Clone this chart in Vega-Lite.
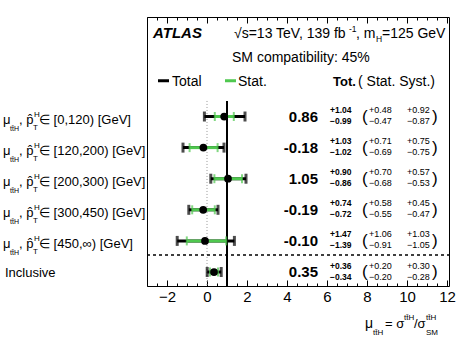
{
  "$schema": "https://vega.github.io/schema/vega-lite/v6.json",
  "width": 302,
  "height": 269,
  "autosize": "none",
  "padding": {"left": 147, "top": 17, "right": 24, "bottom": 55},
  "config": {
    "font": "Liberation Sans",
    "view": {"stroke": "black", "strokeWidth": 1},
    "text": {"font": "Liberation Sans", "color": "black", "baseline": "alphabetic", "align": "left"}
  },
  "data": {"values": [
    {"row": 1, "range": "∈ [0,120) [GeV]", "mu": 0.86, "mu_txt": "0.86", "tot_lo": -0.13, "tot_hi": 1.90, "stat_lo": 0.39, "stat_hi": 1.34, "tot_up": "+1.04", "tot_dn": "−0.99", "stat_up": "+0.48", "stat_dn": "−0.47", "syst_up": "+0.92", "syst_dn": "−0.87"},
    {"row": 2, "range": "∈ [120,200) [GeV]", "mu": -0.18, "mu_txt": "-0.18", "tot_lo": -1.20, "tot_hi": 0.85, "stat_lo": -0.87, "stat_hi": 0.53, "tot_up": "+1.03", "tot_dn": "−1.02", "stat_up": "+0.71", "stat_dn": "−0.69", "syst_up": "+0.75", "syst_dn": "−0.75"},
    {"row": 3, "range": "∈ [200,300) [GeV]", "mu": 1.05, "mu_txt": "1.05", "tot_lo": 0.19, "tot_hi": 1.95, "stat_lo": 0.37, "stat_hi": 1.75, "tot_up": "+0.90", "tot_dn": "−0.86", "stat_up": "+0.70", "stat_dn": "−0.68", "syst_up": "+0.57", "syst_dn": "−0.53"},
    {"row": 4, "range": "∈ [300,450) [GeV]", "mu": -0.19, "mu_txt": "-0.19", "tot_lo": -0.91, "tot_hi": 0.55, "stat_lo": -0.74, "stat_hi": 0.39, "tot_up": "+0.74", "tot_dn": "−0.72", "stat_up": "+0.58", "stat_dn": "−0.55", "syst_up": "+0.45", "syst_dn": "−0.47"},
    {"row": 5, "range": "∈ [450,∞) [GeV]", "mu": -0.10, "mu_txt": "-0.10", "tot_lo": -1.49, "tot_hi": 1.37, "stat_lo": -1.01, "stat_hi": 0.96, "tot_up": "+1.47", "tot_dn": "−1.39", "stat_up": "+1.06", "stat_dn": "−0.91", "syst_up": "+1.03", "syst_dn": "−1.05"},
    {"row": 6, "range": "Inclusive", "mu": 0.35, "mu_txt": "0.35", "tot_lo": 0.01, "tot_hi": 0.71, "stat_lo": 0.15, "stat_hi": 0.55, "tot_up": "+0.36", "tot_dn": "−0.34", "stat_up": "+0.20", "stat_dn": "−0.20", "syst_up": "+0.30", "syst_dn": "−0.28"}
  ]},
  "resolve": {"axis": {"x": "independent", "y": "independent"}},
  "layer": [
    {"mark": {"type": "rule", "color": "#999999", "strokeWidth": 1, "strokeDash": [1, 2]},
     "data": {"values": [{"ref": 0}]},
     "encoding": {"x": {"field": "ref", "type": "quantitative", "axis": null}, "y": {"datum": 0.5, "type": "quantitative", "axis": null}, "y2": {"datum": 6.45}}},
    {"mark": {"type": "rule", "color": "black", "strokeWidth": 2},
     "data": {"values": [{"ref": 1}]},
     "encoding": {"x": {"field": "ref", "type": "quantitative", "axis": null}, "y": {"datum": 0.5, "type": "quantitative", "axis": null}, "y2": {"datum": 6.45}}},
    {"mark": {"type": "rule", "color": "black", "strokeWidth": 1.5, "strokeDash": [3, 3]},
     "data": {"values": [{"sep": 5.45}]},
     "encoding": {"y": {"field": "sep", "type": "quantitative", "axis": null}, "x": {"datum": -3, "type": "quantitative", "axis": null}, "x2": {"datum": 12.1}}},
    {"mark": {"type": "rule", "color": "black", "strokeWidth": 3},
     "encoding": {
       "x": {"field": "tot_lo", "type": "quantitative", "scale": {"domain": [-3, 12.1], "nice": false, "zero": false},
             "axis": {"orient": "bottom", "values": [-2, 0, 2, 4, 6, 8, 10, 12], "format": "d", "tickSize": -6, "tickColor": "black", "tickWidth": 1, "labelFontSize": 15, "labelPadding": 9, "labelColor": "black", "labelFont": "Liberation Sans", "domain": false, "grid": false, "title": null}},
       "x2": {"field": "tot_hi"},
       "y": {"field": "row", "type": "quantitative", "scale": {"domain": [-2.2, 6.45], "reverse": true, "nice": false, "zero": false}, "axis": null}}},
    {"mark": {"type": "tick", "orient": "vertical", "color": "black", "thickness": 3, "size": 10},
     "encoding": {
       "x": {"field": "tot_lo", "type": "quantitative", "axis": {"orient": "bottom", "values": [-3, -2.5, -1.5, -1, -0.5, 0.5, 1, 1.5, 2.5, 3, 3.5, 4.5, 5, 5.5, 6.5, 7, 7.5, 8.5, 9, 9.5, 10.5, 11, 11.5], "tickSize": -3, "tickColor": "black", "labels": false, "domain": false, "grid": false, "title": null}},
       "y": {"field": "row", "type": "quantitative", "axis": null}}},
    {"mark": {"type": "tick", "orient": "vertical", "color": "black", "thickness": 3, "size": 10},
     "encoding": {
       "x": {"field": "tot_hi", "type": "quantitative", "axis": {"orient": "top", "values": [-2, 0, 2, 4, 6, 8, 10, 12], "tickSize": -6, "tickColor": "black", "labels": false, "domain": false, "grid": false, "title": null}},
       "y": {"field": "row", "type": "quantitative", "axis": null}}},
    {"mark": {"type": "rule", "color": "#4fc84f", "strokeWidth": 3},
     "encoding": {
       "x": {"field": "stat_lo", "type": "quantitative", "axis": {"orient": "top", "values": [-3, -2.5, -1.5, -1, -0.5, 0.5, 1, 1.5, 2.5, 3, 3.5, 4.5, 5, 5.5, 6.5, 7, 7.5, 8.5, 9, 9.5, 10.5, 11, 11.5], "tickSize": -3, "tickColor": "black", "labels": false, "domain": false, "grid": false, "title": null}},
       "x2": {"field": "stat_hi"},
       "y": {"field": "row", "type": "quantitative", "axis": null}}},
    {"mark": {"type": "tick", "orient": "vertical", "color": "#4fc84f", "thickness": 2, "size": 9},
     "encoding": {"x": {"field": "stat_lo", "type": "quantitative", "axis": null}, "y": {"field": "row", "type": "quantitative", "axis": null}}},
    {"mark": {"type": "tick", "orient": "vertical", "color": "#4fc84f", "thickness": 2, "size": 9},
     "encoding": {"x": {"field": "stat_hi", "type": "quantitative", "axis": null}, "y": {"field": "row", "type": "quantitative", "axis": null}}},
    {"mark": {"type": "point", "filled": true, "color": "black", "size": 60, "opacity": 1},
     "encoding": {"x": {"field": "mu", "type": "quantitative", "axis": null}, "y": {"field": "row", "type": "quantitative", "axis": null}}},
    {"mark": {"type": "text", "fontSize": 15, "fontWeight": "bold", "align": "right", "dy": 5},
     "encoding": {"text": {"field": "mu_txt"}, "x": {"datum": 5.55, "type": "quantitative", "axis": null}, "y": {"field": "row", "type": "quantitative", "axis": null}}},
    {"mark": {"type": "text", "fontSize": 8.5, "fontWeight": "bold", "dy": -3.5},
     "encoding": {"text": {"field": "tot_up"}, "x": {"datum": 6.15, "type": "quantitative", "axis": null}, "y": {"field": "row", "type": "quantitative", "axis": null}}},
    {"mark": {"type": "text", "fontSize": 8.5, "fontWeight": "bold", "dy": 7.5},
     "encoding": {"text": {"field": "tot_dn"}, "x": {"datum": 6.15, "type": "quantitative", "axis": null}, "y": {"field": "row", "type": "quantitative", "axis": null}}},
    {"mark": {"type": "text", "fontSize": 17, "text": "(", "dy": 5},
     "encoding": {"x": {"datum": 7.75, "type": "quantitative", "axis": null}, "y": {"field": "row", "type": "quantitative", "axis": null}}},
    {"mark": {"type": "text", "fontSize": 17, "text": ")", "dy": 5},
     "encoding": {"x": {"datum": 11.25, "type": "quantitative", "axis": null}, "y": {"field": "row", "type": "quantitative", "axis": null}}},
    {"mark": {"type": "text", "fontSize": 9, "dy": -3.5},
     "encoding": {"text": {"field": "stat_up"}, "x": {"datum": 8.1, "type": "quantitative", "axis": null}, "y": {"field": "row", "type": "quantitative", "axis": null}}},
    {"mark": {"type": "text", "fontSize": 9, "dy": 7.5},
     "encoding": {"text": {"field": "stat_dn"}, "x": {"datum": 8.1, "type": "quantitative", "axis": null}, "y": {"field": "row", "type": "quantitative", "axis": null}}},
    {"mark": {"type": "text", "fontSize": 9, "dy": -3.5},
     "encoding": {"text": {"field": "syst_up"}, "x": {"datum": 10.0, "type": "quantitative", "axis": null}, "y": {"field": "row", "type": "quantitative", "axis": null}}},
    {"mark": {"type": "text", "fontSize": 9, "dy": 7.5},
     "encoding": {"text": {"field": "syst_dn"}, "x": {"datum": 10.0, "type": "quantitative", "axis": null}, "y": {"field": "row", "type": "quantitative", "axis": null}}},
    {"transform": [{"filter": "datum.row < 6"}],
     "mark": {"type": "text", "fontSize": 13, "text": "μ", "dy": 7},
     "encoding": {"x": {"datum": -10.2, "type": "quantitative", "axis": null}, "y": {"field": "row", "type": "quantitative", "axis": null}}},
    {"transform": [{"filter": "datum.row < 6"}],
     "mark": {"type": "text", "fontSize": 7, "text": "tt̄H", "dy": 14},
     "encoding": {"x": {"datum": -9.85, "type": "quantitative", "axis": null}, "y": {"field": "row", "type": "quantitative", "axis": null}}},
    {"transform": [{"filter": "datum.row < 6"}],
     "mark": {"type": "text", "fontSize": 13, "text": ", p̂", "dy": 7},
     "encoding": {"x": {"datum": -9.4, "type": "quantitative", "axis": null}, "y": {"field": "row", "type": "quantitative", "axis": null}}},
    {"transform": [{"filter": "datum.row < 6"}],
     "mark": {"type": "text", "fontSize": 8, "text": "H", "dy": 0},
     "encoding": {"x": {"datum": -8.65, "type": "quantitative", "axis": null}, "y": {"field": "row", "type": "quantitative", "axis": null}}},
    {"transform": [{"filter": "datum.row < 6"}],
     "mark": {"type": "text", "fontSize": 8, "text": "T", "dy": 13},
     "encoding": {"x": {"datum": -8.7, "type": "quantitative", "axis": null}, "y": {"field": "row", "type": "quantitative", "axis": null}}},
    {"transform": [{"filter": "datum.row < 6"}],
     "mark": {"type": "text", "fontSize": 13, "dy": 7},
     "encoding": {"text": {"field": "range"}, "x": {"datum": -8.4, "type": "quantitative", "axis": null}, "y": {"field": "row", "type": "quantitative", "axis": null}}},
    {"transform": [{"filter": "datum.row == 6"}],
     "mark": {"type": "text", "fontSize": 13, "dy": 5},
     "encoding": {"text": {"field": "range"}, "x": {"datum": -10.1, "type": "quantitative", "axis": null}, "y": {"field": "row", "type": "quantitative", "axis": null}}},
    {"data": {"values": [{"t": "ATLAS"}]},
     "mark": {"type": "text", "fontSize": 15, "fontWeight": "bold", "fontStyle": "italic"},
     "encoding": {"text": {"field": "t"}, "x": {"datum": -2.7, "type": "quantitative", "axis": null}, "y": {"datum": -1.52, "type": "quantitative", "axis": null}}},
    {"data": {"values": [{"t": "√s=13 TeV, 139 fb"}]},
     "mark": {"type": "text", "fontSize": 14},
     "encoding": {"text": {"field": "t"}, "x": {"datum": 1.35, "type": "quantitative", "axis": null}, "y": {"datum": -1.52, "type": "quantitative", "axis": null}}},
    {"data": {"values": [{"t": "-1"}]},
     "mark": {"type": "text", "fontSize": 8.5, "dy": -6},
     "encoding": {"text": {"field": "t"}, "x": {"datum": 7.1, "type": "quantitative", "axis": null}, "y": {"datum": -1.52, "type": "quantitative", "axis": null}}},
    {"data": {"values": [{"t": ", m"}]},
     "mark": {"type": "text", "fontSize": 14},
     "encoding": {"text": {"field": "t"}, "x": {"datum": 7.45, "type": "quantitative", "axis": null}, "y": {"datum": -1.52, "type": "quantitative", "axis": null}}},
    {"data": {"values": [{"t": "H"}]},
     "mark": {"type": "text", "fontSize": 8.5, "dy": 4},
     "encoding": {"text": {"field": "t"}, "x": {"datum": 8.45, "type": "quantitative", "axis": null}, "y": {"datum": -1.52, "type": "quantitative", "axis": null}}},
    {"data": {"values": [{"t": "=125 GeV"}]},
     "mark": {"type": "text", "fontSize": 14},
     "encoding": {"text": {"field": "t"}, "x": {"datum": 8.75, "type": "quantitative", "axis": null}, "y": {"datum": -1.52, "type": "quantitative", "axis": null}}},
    {"data": {"values": [{"t": "SM compatibility: 45%"}]},
     "mark": {"type": "text", "fontSize": 14},
     "encoding": {"text": {"field": "t"}, "x": {"datum": 1.25, "type": "quantitative", "axis": null}, "y": {"datum": -0.75, "type": "quantitative", "axis": null}}},
    {"data": {"values": [{"s": "Total"}]},
     "mark": {"type": "rule", "color": "black", "strokeWidth": 3},
     "encoding": {"x": {"datum": -2.45, "type": "quantitative", "axis": null}, "x2": {"datum": -1.9}, "y": {"datum": -0.15, "type": "quantitative", "axis": null}}},
    {"data": {"values": [{"t": "Total"}]},
     "mark": {"type": "text", "fontSize": 14},
     "encoding": {"text": {"field": "t"}, "x": {"datum": -1.75, "type": "quantitative", "axis": null}, "y": {"datum": 0.03, "type": "quantitative", "axis": null}}},
    {"data": {"values": [{"s": "Stat."}]},
     "mark": {"type": "rule", "color": "#4fc84f", "strokeWidth": 3},
     "encoding": {"x": {"datum": 0.9, "type": "quantitative", "axis": null}, "x2": {"datum": 1.45}, "y": {"datum": -0.15, "type": "quantitative", "axis": null}}},
    {"data": {"values": [{"t": "Stat."}]},
     "mark": {"type": "text", "fontSize": 14},
     "encoding": {"text": {"field": "t"}, "x": {"datum": 1.55, "type": "quantitative", "axis": null}, "y": {"datum": 0.03, "type": "quantitative", "axis": null}}},
    {"data": {"values": [{"t": "Tot."}]},
     "mark": {"type": "text", "fontSize": 13, "fontWeight": "bold"},
     "encoding": {"text": {"field": "t"}, "x": {"datum": 6.3, "type": "quantitative", "axis": null}, "y": {"datum": 0.03, "type": "quantitative", "axis": null}}},
    {"data": {"values": [{"t": "( Stat.  Syst.)"}]},
     "mark": {"type": "text", "fontSize": 14},
     "encoding": {"text": {"field": "t"}, "x": {"datum": 7.55, "type": "quantitative", "axis": null}, "y": {"datum": 0.03, "type": "quantitative", "axis": null}}},
    {"data": {"values": [{"t": "μ"}]},
     "mark": {"type": "text", "fontSize": 14},
     "encoding": {"text": {"field": "t"}, "x": {"datum": 7.9, "type": "quantitative", "axis": null}, "y": {"datum": 7.8, "type": "quantitative", "axis": null}}},
    {"data": {"values": [{"t": "tt̄H"}]},
     "mark": {"type": "text", "fontSize": 8},
     "encoding": {"text": {"field": "t"}, "x": {"datum": 8.3, "type": "quantitative", "axis": null}, "y": {"datum": 8.03, "type": "quantitative", "axis": null}}},
    {"data": {"values": [{"t": "= σ"}]},
     "mark": {"type": "text", "fontSize": 13},
     "encoding": {"text": {"field": "t"}, "x": {"datum": 8.9, "type": "quantitative", "axis": null}, "y": {"datum": 7.8, "type": "quantitative", "axis": null}}},
    {"data": {"values": [{"t": "tt̄H"}]},
     "mark": {"type": "text", "fontSize": 8},
     "encoding": {"text": {"field": "t"}, "x": {"datum": 9.85, "type": "quantitative", "axis": null}, "y": {"datum": 7.55, "type": "quantitative", "axis": null}}},
    {"data": {"values": [{"t": "/σ"}]},
     "mark": {"type": "text", "fontSize": 13},
     "encoding": {"text": {"field": "t"}, "x": {"datum": 10.35, "type": "quantitative", "axis": null}, "y": {"datum": 7.8, "type": "quantitative", "axis": null}}},
    {"data": {"values": [{"t": "tt̄H"}]},
     "mark": {"type": "text", "fontSize": 8},
     "encoding": {"text": {"field": "t"}, "x": {"datum": 10.95, "type": "quantitative", "axis": null}, "y": {"datum": 7.55, "type": "quantitative", "axis": null}}},
    {"data": {"values": [{"t": "SM"}]},
     "mark": {"type": "text", "fontSize": 8},
     "encoding": {"text": {"field": "t"}, "x": {"datum": 10.95, "type": "quantitative", "axis": null}, "y": {"datum": 8.03, "type": "quantitative", "axis": null}}}
  ]
}
